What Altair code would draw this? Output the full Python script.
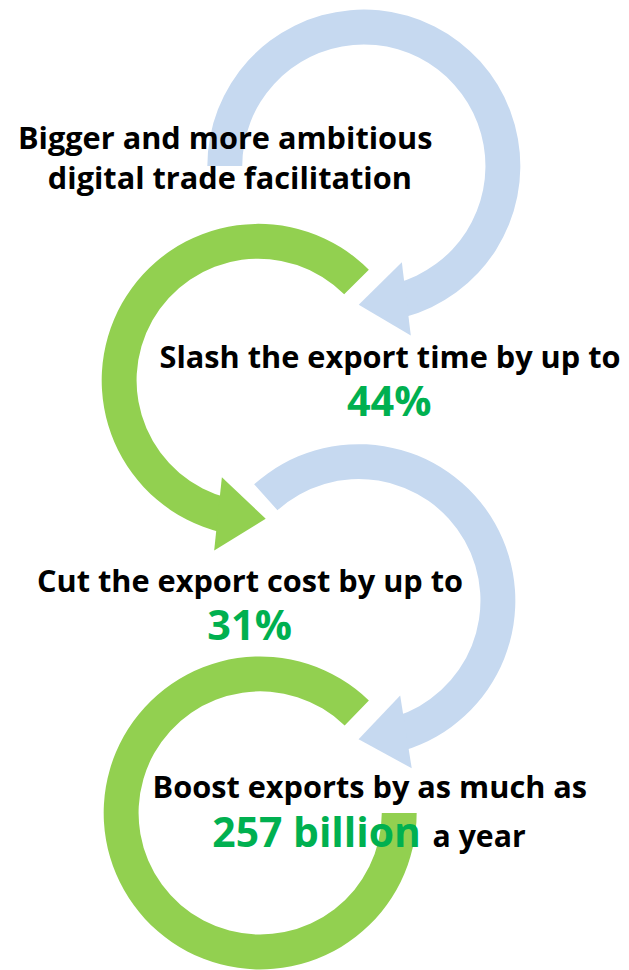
import math
import altair as alt
import pandas as pd

# ---- arcs (circular arrows), image pixel coordinates ----
arc_cx = [365, 259, 360, 261]
arc_cy = [163, 378, 599, 812]
arc_start_deg = [270, 194, 318, 90]
arc_end_deg = [525, 405, 523, 404]
arc_color = ["#C6D9F0", "#92D050", "#C6D9F0", "#92D050"]
r_inner = 122
r_outer = 157

# ---- arrowheads: which arc, base angle, tip angle ----
head_arc = [0, 1, 2]
head_base_deg = [163, 196, 161]
head_tip_deg = [183, 176, 181]
head_halfwidth = 37

# ---- texts ----
txt = ["Bigger and more ambitious", "digital trade facilitation",
       "Slash the export time by up to", "44%",
       "Cut the export cost by up to", "31%",
       "Boost exports by as much as", "257 billion", "a year"]
txt_x = [18, 48, 160, 348, 37, 208, 153, 213, 434]
txt_y = [146, 186, 366, 414, 590, 638, 797, 846, 846]
txt_size = [30.8, 30.8, 30.8, 41.5, 30.8, 41.5, 30.8, 41, 30.3]
txt_color = ["#000000", "#000000", "#000000", "#00B050", "#000000",
             "#00B050", "#000000", "#00B050", "#000000"]

arcs = pd.DataFrame({
    "cx": arc_cx, "cy": arc_cy,
    "t0": [math.radians(a) for a in arc_start_deg],
    "t1": [math.radians(a) for a in arc_end_deg],
    "color": arc_color,
})

rm = (r_inner + r_outer) / 2
hx, hy, ha, hc = [], [], [], []
for i, b, t in zip(head_arc, head_base_deg, head_tip_deg):
    cx, cy = arc_cx[i], arc_cy[i]
    bx = cx + rm * math.sin(math.radians(b))
    by = cy - rm * math.cos(math.radians(b))
    tx = cx + rm * math.sin(math.radians(t))
    ty = cy - rm * math.cos(math.radians(t))
    dx, dy = tx - bx, ty - by
    hx.append(bx)
    hy.append(by)
    ha.append((math.degrees(math.atan2(dx, -dy)) + 360) % 360)
    hc.append(arc_color[i])
heads = pd.DataFrame({"x": hx, "y": hy, "angle": ha, "color": hc})

texts = pd.DataFrame({"text": txt, "x": txt_x, "y": txt_y,
                      "size": txt_size, "color": txt_color})

W, H = 613, 954
xs = alt.Scale(domain=[8, 8 + W], nice=False, zero=False)
ys = alt.Scale(domain=[8, 8 + H], nice=False, zero=False, reverse=True)

arc_layer = alt.Chart(arcs).mark_arc().encode(
    x=alt.X("cx:Q", scale=xs, axis=None),
    y=alt.Y("cy:Q", scale=ys, axis=None),
    theta=alt.Theta("t0:Q", scale=None),
    theta2="t1:Q",
    radius=alt.value(r_outer),
    radius2=alt.value(r_inner),
    color=alt.Color("color:N", scale=None),
)

head_layer = alt.Chart(heads).mark_point(
    shape="M-1,0.05 L1,0.05 L0,-1.25 Z", filled=True, opacity=1, strokeWidth=0
).encode(
    x=alt.X("x:Q", scale=xs, axis=None),
    y=alt.Y("y:Q", scale=ys, axis=None),
    angle=alt.Angle("angle:Q", scale=None),
    size=alt.value((2 * head_halfwidth) ** 2),
    color=alt.Color("color:N", scale=None),
)

text_layer = alt.Chart(texts).mark_text(
    align="left", baseline="alphabetic", font="Open Sans", fontWeight="bold"
).encode(
    x=alt.X("x:Q", scale=xs, axis=None),
    y=alt.Y("y:Q", scale=ys, axis=None),
    text="text:N",
    size=alt.Size("size:Q", scale=None),
    color=alt.Color("color:N", scale=None),
)

chart = alt.layer(arc_layer, head_layer, text_layer).properties(
    width=W, height=H, padding=0, background="white"
).configure_view(stroke=None)

chart.save("out.html", embed_options={"renderer": "svg", "actions": False})
